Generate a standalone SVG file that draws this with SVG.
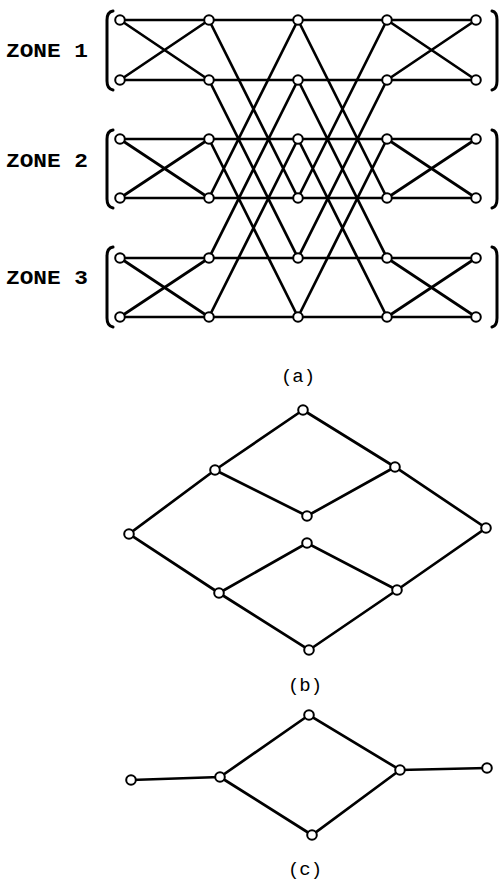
<svg xmlns="http://www.w3.org/2000/svg" width="500" height="885" viewBox="0 0 500 885">
<style>
.e{stroke:#000;stroke-width:2.7;fill:none;stroke-linecap:round}
.b{stroke:#000;stroke-width:3;fill:none;stroke-linecap:round}
.n{fill:#fff;stroke:#000;stroke-width:2}
.z{font-family:"Liberation Mono","DejaVu Sans Mono",monospace;font-weight:bold;font-size:20px;fill:#000}
.l{font-family:"Liberation Mono","DejaVu Sans Mono",monospace;font-size:19px;fill:#000}
</style>
<defs><circle id="c" r="4.8" class="n"/></defs>
<rect width="500" height="885" fill="#fff"/>
<g id="labels">
<text class="z" x="6" y="57" textLength="82" lengthAdjust="spacingAndGlyphs">ZONE 1</text>
<text class="z" x="6" y="167" textLength="82" lengthAdjust="spacingAndGlyphs">ZONE 2</text>
<text class="z" x="6" y="284" textLength="82" lengthAdjust="spacingAndGlyphs">ZONE 3</text>
<text class="l" x="298" y="382" text-anchor="middle">(a)</text>
<text class="l" x="305" y="691" text-anchor="middle">(b)</text>
<text class="l" x="305" y="875" text-anchor="middle">(c)</text>
</g>
<g id="brackets">
<path class="b" d="M113 11 Q107 12 107 20 L107 81 Q107 89 113 90"/>
<path class="b" d="M113 130 Q107 131 107 139 L107 199 Q107 207 113 208"/>
<path class="b" d="M113 247 Q107 248 107 256 L107 318 Q107 326 113 327"/>
<path class="b" d="M492 11 Q497 12 497 20 L497 81 Q497 89 492 90"/>
<path class="b" d="M492 130 Q497 131 497 139 L497 199 Q497 207 492 208"/>
<path class="b" d="M492 247 Q497 248 497 256 L497 318 Q497 326 492 327"/>
</g>
<g id="connectors">
<path class="e" d="M120 20H476M120 80H476M120 139H476M120 198H476M120 258H476M120 317H476"/>
<path class="e" d="M120 20L209 80M120 80L209 20M120 139L209 198M120 198L209 139M120 258L209 317M120 317L209 258"/>
<path class="e" d="M387 20L476 80M387 80L476 20M387 139L476 198M387 198L476 139M387 258L476 317M387 317L476 258"/>
<path class="e" d="M209 20L298 198M209 198L298 20M209 80L298 258M209 258L298 80M209 139L298 317M209 317L298 139"/>
<path class="e" d="M298 20L387 198M298 198L387 20M298 80L387 258M298 258L387 80M298 139L387 317M298 317L387 139"/>
<path class="e" d="M303 410L215 470L129 534L219 593L309 650L397 590L486 528L395 467L303 410M215 470L307 516L395 467M219 593L307 543L397 590"/>
<path class="e" d="M131 780L220 777L309 715L400 770L487 768M220 777L312 835L400 770"/>
</g>
<g id="nodes-a">
<use href="#c" x="120" y="20"/><use href="#c" x="209" y="20"/><use href="#c" x="298" y="20"/><use href="#c" x="387" y="20"/><use href="#c" x="476" y="20"/>
<use href="#c" x="120" y="80"/><use href="#c" x="209" y="80"/><use href="#c" x="298" y="80"/><use href="#c" x="387" y="80"/><use href="#c" x="476" y="80"/>
<use href="#c" x="120" y="139"/><use href="#c" x="209" y="139"/><use href="#c" x="298" y="139"/><use href="#c" x="387" y="139"/><use href="#c" x="476" y="139"/>
<use href="#c" x="120" y="198"/><use href="#c" x="209" y="198"/><use href="#c" x="298" y="198"/><use href="#c" x="387" y="198"/><use href="#c" x="476" y="198"/>
<use href="#c" x="120" y="258"/><use href="#c" x="209" y="258"/><use href="#c" x="298" y="258"/><use href="#c" x="387" y="258"/><use href="#c" x="476" y="258"/>
<use href="#c" x="120" y="317"/><use href="#c" x="209" y="317"/><use href="#c" x="298" y="317"/><use href="#c" x="387" y="317"/><use href="#c" x="476" y="317"/>
</g>
<g id="nodes-b">
<use href="#c" x="303" y="410"/><use href="#c" x="215" y="470"/><use href="#c" x="395" y="467"/><use href="#c" x="307" y="516"/><use href="#c" x="129" y="534"/>
<use href="#c" x="486" y="528"/><use href="#c" x="307" y="543"/><use href="#c" x="219" y="593"/><use href="#c" x="397" y="590"/><use href="#c" x="309" y="650"/>
</g>
<g id="nodes-c">
<use href="#c" x="131" y="780"/><use href="#c" x="220" y="777"/><use href="#c" x="309" y="715"/><use href="#c" x="312" y="835"/><use href="#c" x="400" y="770"/><use href="#c" x="487" y="768"/>
</g>
</svg>
